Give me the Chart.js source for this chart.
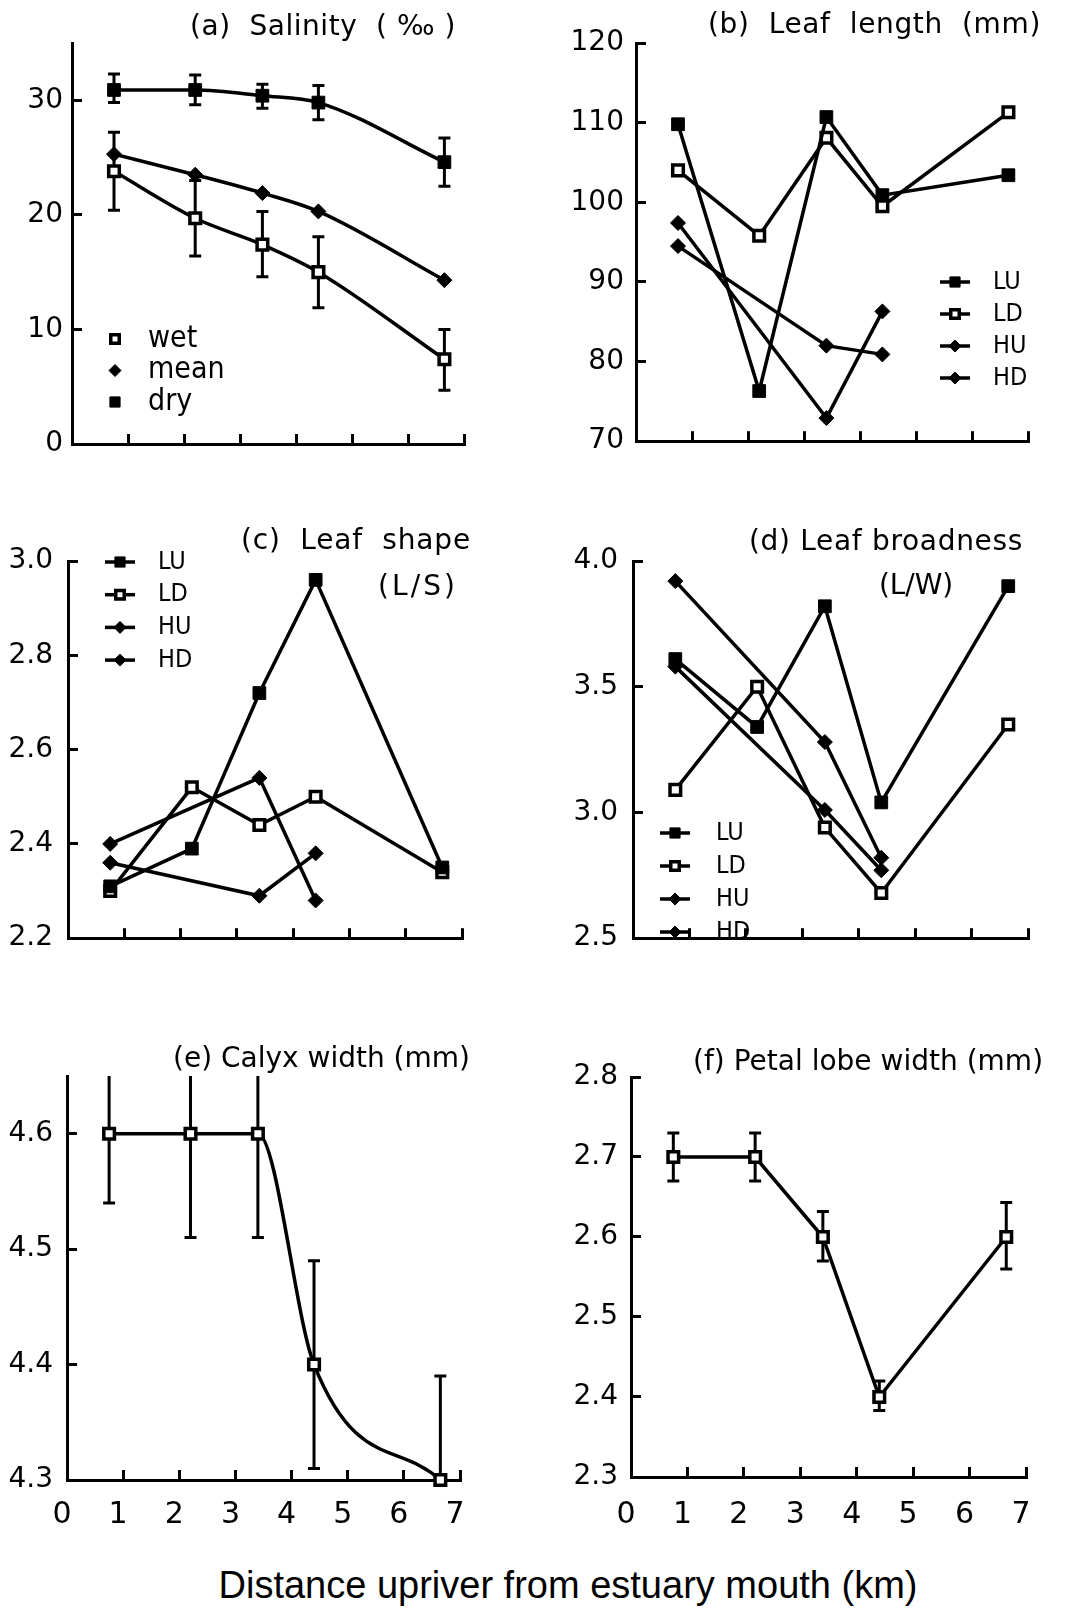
<!DOCTYPE html>
<html>
<head>
<meta charset="utf-8">
<script src="https://cdn.jsdelivr.net/npm/chart.js@4.4.1/dist/chart.umd.min.js"></script>
<style>
  html, body { margin: 0; padding: 0; background: #fff; }
  #page { position: relative; width: 1072px; height: 1610px; overflow: hidden; background: #fff; }
  #page canvas { position: absolute; }
  #xTitle {
    position: absolute; left: 68px; width: 1000px; top: 1566px;
    text-align: center; font: 38px "Liberation Sans", Arial, sans-serif; line-height: 38px; color: #000;
  }
</style>
</head>
<body>
<div id="page">
  <div id="xTitle">Distance upriver from estuary mouth (km)</div>
</div>
<script>
/* ---------------- data ---------------- */
const distanceKm = [0.75, 2.2, 3.4, 4.4, 6.65];

// (a) salinity, per mil
const salinityWet = [23.8, 19.7, 17.4, 15.0, 7.4];
const salinityWetLow = [20.4, 16.4, 14.6, 11.9, 4.7];
const salinityWetHigh = [27.2, 23.0, 20.3, 18.1, 10.0];
const salinityMean = [25.3, 23.5, 21.9, 20.3, 14.3];
const salinityDry = [30.9, 30.9, 30.4, 29.8, 24.6];
const salinityDryLow = [29.8, 29.6, 29.3, 28.3, 22.5];
const salinityDryHigh = [32.3, 32.2, 31.4, 31.3, 26.7];

// (b) leaf length, mm
const lengthLU = [109.8, 76.3, 110.7, 100.9, 103.4];
const lengthLD = [104.0, 95.8, 108.1, 99.5, 111.3];
const lengthHU = [97.4, null, 72.9, 86.3, null];
const lengthHD = [94.5, null, 82.0, 80.9, null];

// (c) leaf shape, L/S
const shapeLU = [2.31, 2.39, 2.72, 2.96, 2.35];
const shapeLD = [2.30, 2.52, 2.44, 2.50, 2.34];
const shapeHU = [2.40, null, 2.54, 2.28, null];
const shapeHD = [2.36, null, 2.29, 2.38, null];

// (d) leaf broadness, L/W
const broadLU = [3.61, 3.34, 3.82, 3.04, 3.90];
const broadLD = [3.09, 3.50, 2.94, 2.68, 3.35];
const broadHU = [3.92, null, 3.28, 2.82, null];
const broadHD = [3.58, null, 3.01, 2.77, null];

// (e) calyx width, mm
const calyxMean = [4.60, 4.60, 4.60, 4.40, 4.30];
const calyxLow = [4.54, 4.51, 4.51, 4.31, 4.21];
const calyxHigh = [4.66, 4.69, 4.69, 4.49, 4.39];

// (f) petal lobe width, mm
const petalMean = [2.70, 2.70, 2.60, 2.40, 2.60];
const petalLow = [2.67, 2.67, 2.57, 2.383, 2.56];
const petalHigh = [2.73, 2.73, 2.632, 2.42, 2.643];

/* ---------------- styles ---------------- */
const TICK_FONT = { family: '"DejaVu Sans", sans-serif', size: 28 };
const X_FONT = { family: '"DejaVu Sans", sans-serif', size: 30 };
const TITLE_FONT = '28px "DejaVu Sans", sans-serif';
const LEGEND_FONT_A = '30px "Liberation Sans Narrow", "DejaVu Sans Condensed", sans-serif';
const LEGEND_FONT = '25px "Liberation Sans Narrow", "DejaVu Sans Condensed", sans-serif';

const filledSquare = { pointStyle: 'rect', pointRadius: 9, pointBackgroundColor: '#000', pointBorderColor: '#000', pointBorderWidth: 1 };
const openSquare = { pointStyle: 'rect', pointRadius: 7.5, pointBackgroundColor: '#fff', pointBorderColor: '#000', pointBorderWidth: 3.5 };
const diamond = { pointStyle: 'rectRot', pointRadius: 7.5, pointBackgroundColor: '#000', pointBorderColor: '#000', pointBorderWidth: 1 };

function series(label, ys, marker, extra) {
    return Object.assign({
        label: label,
        data: distanceKm.map((x, i) => ({ x: x, y: ys[i] })),
        borderColor: '#000',
        borderWidth: 3.5,
        fill: false,
        spanGaps: true,
        clip: false,
        pointHoverRadius: marker.pointRadius
    }, marker, extra || {});
}

/* ---------------- plugins ---------------- */
// vertical error bars, clipped to the plot area like the original
const errorBarPlugin = {
    id: 'errorBars',
    beforeDatasetsDraw(chart) {
        const { ctx, chartArea, scales } = chart;
        ctx.save();
        ctx.beginPath();
        ctx.rect(chartArea.left, chartArea.top, chartArea.right - chartArea.left, chartArea.bottom - chartArea.top);
        ctx.clip();
        ctx.strokeStyle = '#000';
        ctx.lineWidth = 3;
        chart.data.datasets.forEach(ds => {
            if (!ds.errLow) return;
            ds.data.forEach((p, i) => {
                const x = scales.x.getPixelForValue(p.x);
                const lo = scales.y.getPixelForValue(ds.errLow[i]);
                const hi = scales.y.getPixelForValue(ds.errHigh[i]);
                ctx.beginPath();
                ctx.moveTo(x, lo); ctx.lineTo(x, hi);
                ctx.moveTo(x - 6, lo); ctx.lineTo(x + 6, lo);
                ctx.moveTo(x - 6, hi); ctx.lineTo(x + 6, hi);
                ctx.stroke();
            });
        });
        ctx.restore();
    }
};

// panel captions, stretched between a left and right edge
const captionPlugin = {
    id: 'caption',
    afterDraw(chart, args, opts) {
        if (!opts.lines) return;
        const ctx = chart.ctx;
        opts.lines.forEach(t => {
            ctx.save();
            ctx.font = TITLE_FONT;
            ctx.fillStyle = '#000';
            ctx.textAlign = 'left';
            ctx.textBaseline = 'middle';
            const w = ctx.measureText(t.text).width;
            if ('letterSpacing' in ctx) {
                ctx.letterSpacing = ((t.right - t.left - w) / t.text.length).toFixed(2) + 'px';
            }
            ctx.fillText(t.text, t.left, t.y);
            ctx.restore();
        });
    }
};

// legend inside the plot, one row per dataset
const insideLegendPlugin = {
    id: 'insideLegend',
    afterDraw(chart, args, opts) {
        if (!opts.x) return;
        const ctx = chart.ctx;
        chart.data.datasets.forEach((ds, i) => {
            const y = opts.y + i * opts.dy;
            ctx.save();
            if (opts.lineLen) {
                ctx.strokeStyle = '#000';
                ctx.lineWidth = 3.5;
                ctx.beginPath();
                ctx.moveTo(opts.x - opts.lineLen / 2, y);
                ctx.lineTo(opts.x + opts.lineLen / 2, y);
                ctx.stroke();
            }
            ctx.fillStyle = ds.pointBackgroundColor;
            ctx.strokeStyle = ds.pointBorderColor;
            ctx.lineWidth = ds.pointBorderWidth;
            Chart.helpers.drawPoint(ctx, {
                pointStyle: ds.pointStyle,
                radius: ds.pointRadius * opts.scale,
                rotation: 0,
                borderWidth: ds.pointBorderWidth
            }, opts.x, y);
            ctx.fillStyle = '#000';
            ctx.font = opts.font;
            ctx.textAlign = 'left';
            ctx.textBaseline = 'middle';
            ctx.fillText(ds.label, opts.textX, y);
            ctx.restore();
        });
    }
};

/* ---------------- panel factory ---------------- */
const page = document.getElementById('page');

function makePanel(cfg) {
    const [cx, cy, cw, ch] = cfg.box;
    const a = cfg.area;
    const canvas = document.createElement('canvas');
    canvas.width = cw;
    canvas.height = ch;
    canvas.style.left = cx + 'px';
    canvas.style.top = cy + 'px';
    page.appendChild(canvas);

    const lines = cfg.captions.map(t => ({ text: t.text, left: t.left - cx, right: t.right - cx, y: t.y - cy }));
    const legend = cfg.legend ? Object.assign({}, cfg.legend, {
        x: cfg.legend.x - cx, y: cfg.legend.y - cy, textX: cfg.legend.textX - cx
    }) : {};

    return new Chart(canvas, {
        type: 'line',
        data: { datasets: cfg.datasets },
        options: {
            responsive: false,
            animation: false,
            events: [],
            layout: { padding: { left: 0, top: a.top - cy, right: cx + cw - a.right, bottom: 0 } },
            plugins: {
                legend: { display: false },
                tooltip: { enabled: false },
                caption: { lines: lines },
                insideLegend: legend
            },
            scales: {
                x: {
                    type: 'linear',
                    min: 0,
                    max: 7,
                    ticks: {
                        stepSize: 1,
                        display: !!cfg.showX,
                        font: X_FONT,
                        color: '#000',
                        padding: 1515 - a.bottom + 10 - 18,
                        labelOffset: -5
                    },
                    grid: { drawOnChartArea: false, drawTicks: true, tickLength: -10, lineWidth: 3, color: '#000' },
                    border: { display: true, color: '#000', width: 3 },
                    afterFit: s => { s.height = cy + ch - a.bottom; }
                },
                y: {
                    type: 'linear',
                    min: cfg.y.min,
                    max: cfg.y.max,
                    ticks: {
                        stepSize: cfg.y.step,
                        includeBounds: false,
                        font: TICK_FONT,
                        color: '#000',
                        padding: 10 + cfg.y.gap,
                        callback: v => cfg.y.dec ? Number(v).toFixed(cfg.y.dec) : String(Math.round(v))
                    },
                    grid: { drawOnChartArea: false, drawTicks: true, tickLength: -10, lineWidth: 3, color: '#000' },
                    border: { display: true, color: '#000', width: 3 },
                    afterFit: s => { s.width = a.left - cx; }
                }
            }
        },
        plugins: [errorBarPlugin, captionPlugin, insideLegendPlugin]
    });
}

/* ---------------- (a) Salinity ---------------- */
makePanel({
    box: [0, 0, 536, 480],
    area: { left: 72, top: 43, right: 464, bottom: 444 },
    y: { min: 0, max: 35, step: 10, dec: 0, gap: 9 },
    captions: [{ text: '(a)  Salinity  ( ‰ )', left: 190, right: 456, y: 28 }],
    legend: { x: 115, y: 339, dy: 31.5, textX: 148, lineLen: 0, scale: 0.8, font: LEGEND_FONT_A },
    datasets: [
        series('wet', salinityWet, openSquare, { cubicInterpolationMode: 'monotone', errLow: salinityWetLow, errHigh: salinityWetHigh }),
        series('mean', salinityMean, diamond, { cubicInterpolationMode: 'monotone' }),
        series('dry', salinityDry, filledSquare, { cubicInterpolationMode: 'monotone', errLow: salinityDryLow, errHigh: salinityDryHigh })
    ]
});

/* ---------------- (b) Leaf length ---------------- */
makePanel({
    box: [536, 0, 536, 480],
    area: { left: 636, top: 43, right: 1028, bottom: 444 },
    y: { min: 70, max: 120, step: 10, dec: 0, gap: 12 },
    captions: [{ text: '(b)  Leaf  length  (mm)', left: 708, right: 1041, y: 26 }],
    legend: { x: 955, y: 282, dy: 32, textX: 993, lineLen: 30, scale: 0.8, font: LEGEND_FONT },
    datasets: [
        series('LU', lengthLU, filledSquare),
        series('LD', lengthLD, openSquare),
        series('HU', lengthHU, diamond),
        series('HD', lengthHD, diamond)
    ]
});

/* ---------------- (c) Leaf shape ---------------- */
makePanel({
    box: [0, 480, 536, 500],
    area: { left: 68, top: 561, right: 462, bottom: 962 },
    y: { min: 2.2, max: 3.0, step: 0.2, dec: 1, gap: 15 },
    captions: [
        { text: '(c)  Leaf  shape', left: 241, right: 471, y: 542 },
        { text: '(L/S)', left: 378, right: 458, y: 588 }
    ],
    legend: { x: 120, y: 562, dy: 32.7, textX: 158, lineLen: 30, scale: 0.8, font: LEGEND_FONT },
    datasets: [
        series('LU', shapeLU, filledSquare),
        series('LD', shapeLD, openSquare),
        series('HU', shapeHU, diamond),
        series('HD', shapeHD, diamond)
    ]
});

/* ---------------- (d) Leaf broadness ---------------- */
makePanel({
    box: [536, 480, 536, 500],
    area: { left: 633, top: 561, right: 1028, bottom: 960 },
    y: { min: 2.5, max: 4.0, step: 0.5, dec: 1, gap: 15 },
    captions: [
        { text: '(d) Leaf broadness', left: 749, right: 1023, y: 543 },
        { text: '(L/W)', left: 879, right: 953, y: 587 }
    ],
    legend: { x: 675, y: 833, dy: 33, textX: 716, lineLen: 30, scale: 0.8, font: LEGEND_FONT },
    datasets: [
        series('LU', broadLU, filledSquare),
        series('LD', broadLD, openSquare),
        series('HU', broadHU, diamond),
        series('HD', broadHD, diamond)
    ]
});

/* ---------------- (e) Calyx width ---------------- */
makePanel({
    box: [0, 990, 536, 560],
    area: { left: 67, top: 1076, right: 460, bottom: 1480 },
    y: { min: 4.3, max: 4.65, step: 0.1, dec: 1, gap: 14 },
    captions: [{ text: '(e) Calyx width (mm)', left: 173, right: 470, y: 1060 }],
    showX: true,
    datasets: [
        series('calyx', calyxMean, openSquare, { cubicInterpolationMode: 'monotone', errLow: calyxLow, errHigh: calyxHigh })
    ]
});

/* ---------------- (f) Petal lobe width ---------------- */
makePanel({
    box: [536, 990, 536, 560],
    area: { left: 631, top: 1077, right: 1026, bottom: 1477 },
    y: { min: 2.3, max: 2.8, step: 0.1, dec: 1, gap: 13 },
    captions: [{ text: '(f) Petal lobe width (mm)', left: 693, right: 1043, y: 1063 }],
    showX: true,
    datasets: [
        series('petal', petalMean, openSquare, { errLow: petalLow, errHigh: petalHigh })
    ]
});
</script>
</body>
</html>
